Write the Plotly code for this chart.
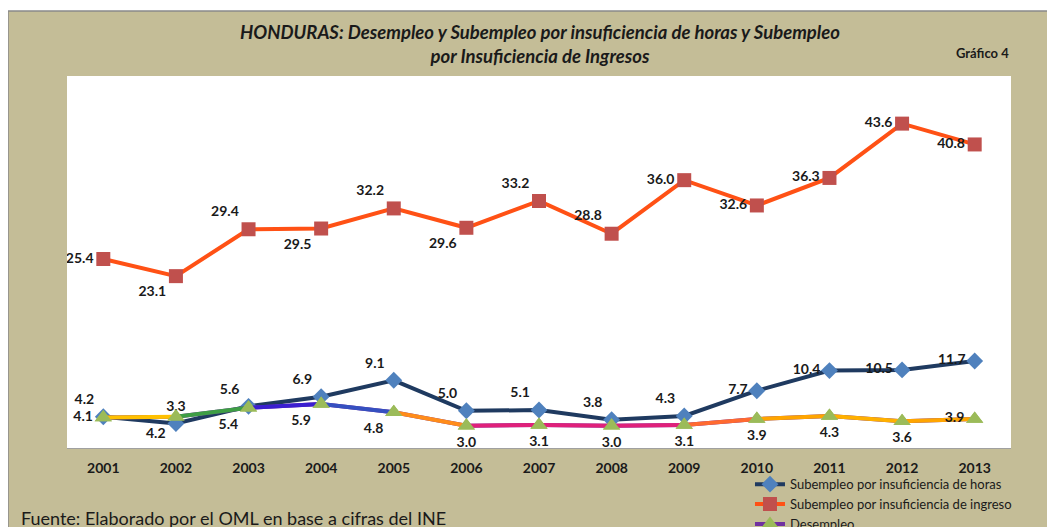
"""Honduras: desempleo y subempleo, 2001-2013."""

import plotly.graph_objects as go

years = [str(y) for y in range(2001, 2014)]
horas = [4.2, 3.3, 5.6, 6.9, 9.1, 5.0, 5.1, 3.8, 4.3, 7.7, 10.4, 10.5, 11.7]
ingreso = [25.4, 23.1, 29.4, 29.5, 32.2, 29.6, 33.2, 28.8, 36.0, 32.6, 36.3, 43.6, 40.8]
desempleo = [4.1, 4.2, 5.4, 5.9, 4.8, 3.0, 3.1, 3.0, 3.1, 3.9, 4.3, 3.6, 3.9]

_C = {
    "bg": "#C4BD97",
    "horas_line": "#1F3A60",
    "horas_mk": "#4F81BD",
    "ing_line": "#FF5115",
    "ing_mk": "#C0504D",
    "des_mk": "#9BBB59",
    "text": "#1A1A1A",
}
_FONT = "Lato"
_NARROW = "Liberation Sans Narrow, Lato"
# Excel draws the desempleo line as a gradient; approximate with one colour per segment
_DES_SEG = ["#FFC000", "#3E9E45", "#3A1FD0", "#3550C0", "#FF8C1A", "#E0207A",
            "#E0207A", "#E0207A", "#FF6A30", "#FFA500", "#FFB000", "#FFA500"]

pos_horas = ["top left", "top center", "top left", "top left", "top left", "top left", "top left",
             "top left", "top left", "middle left", "middle left", "middle left", "middle left"]
pos_ing = ["middle left", "bottom left", "top left", "bottom left", "top left", "bottom left", "top left",
           "top left", "middle left", "middle left", "middle left", "middle left", "middle left"]
pos_des = ["middle left", "bottom left", "bottom left", "bottom left", "bottom left", "bottom center",
           "bottom center", "bottom center", "bottom center", "bottom center", "bottom center",
           "bottom center", "middle left"]

lbl_font = dict(family=_FONT, size=14, color=_C["text"], weight="bold")

fig = go.Figure()
fig.add_trace(go.Scatter(
    x=years, y=horas, name="Subempleo por insuficiencia de horas", mode="lines+markers+text",
    line=dict(color=_C["horas_line"], width=4),
    marker=dict(symbol="diamond", size=13, color=_C["horas_mk"]),
    text=[f"{v:.1f}" for v in horas], textposition=pos_horas, textfont=lbl_font,
))
fig.add_trace(go.Scatter(
    x=years, y=ingreso, name="Subempleo por insuficiencia de ingreso", mode="lines+markers+text",
    line=dict(color=_C["ing_line"], width=4),
    marker=dict(symbol="square", size=14, color=_C["ing_mk"]),
    text=[f"{v:.1f}" for v in ingreso], textposition=pos_ing, textfont=lbl_font,
))
# legend entry for desempleo
fig.add_trace(go.Scatter(
    x=years, y=desempleo, name="Desempleo", mode="lines+markers",
    line=dict(color="#7030A0", width=4),
    marker=dict(symbol="triangle-up", size=15, color=_C["des_mk"]),
))
for i, col in enumerate(_DES_SEG):
    fig.add_trace(go.Scatter(
        x=years[i:i + 2], y=desempleo[i:i + 2], mode="lines", showlegend=False,
        line=dict(color=col, width=4), hoverinfo="skip",
    ))
fig.add_trace(go.Scatter(
    x=years, y=desempleo, mode="markers+text", showlegend=False,
    marker=dict(symbol="triangle-up", size=15, color=_C["des_mk"]),
    text=[f"{v:.1f}" for v in desempleo], textposition=pos_des, textfont=lbl_font,
))

fig.update_layout(
    width=1055, height=527,
    margin=dict(l=59, r=52, t=68, b=87, autoexpand=False),
    paper_bgcolor=_C["bg"], plot_bgcolor="white",
    font=dict(family=_FONT, color=_C["text"]),
    xaxis=dict(type="category", range=[-0.5, 12.5], showgrid=False, showline=True,
               linecolor="#A0A0A0", linewidth=1, ticks="", ticklabelstandoff=7,
               tickfont=dict(family=_FONT, size=14, color=_C["text"], weight="bold")),
    yaxis=dict(range=[0, 50], visible=False),
    showlegend=True,
    legend=dict(x=0.7235, y=-0.057, xanchor="left", yanchor="top", bgcolor="rgba(0,0,0,0)",
                font=dict(family=_NARROW, size=13, color=_C["text"]), tracegroupgap=0),
    annotations=[
        dict(text="<b><i>HONDURAS: Desempleo y Subempleo por insuficiencia de horas y Subempleo<br>"
                  "por Insuficiencia de Ingresos</i></b>",
             x=0.501, y=1.085, xref="paper", yref="paper", xanchor="center", yanchor="middle",
             showarrow=False, font=dict(family=_FONT, size=18.5, color=_C["text"])),
        dict(text="<b>Gráfico 4</b>", x=1.0, y=1.063, xref="paper", yref="paper",
             xanchor="right", yanchor="middle", showarrow=False,
             font=dict(family=_FONT, size=13, color=_C["text"])),
        dict(text="Fuente: Elaborado por el OML en base a cifras del INE", x=-0.051, y=-0.188,
             xref="paper", yref="paper", xanchor="left", yanchor="middle", showarrow=False,
             font=dict(family=_FONT, size=18, color=_C["text"])),
    ],
    shapes=[
        dict(type="rect", xref="paper", yref="paper", x0=-0.08, x1=1.1, y0=1.1747, y1=1.25,
             fillcolor="white", line=dict(width=0)),
        dict(type="line", xref="paper", yref="paper", x0=-0.0625, x1=-0.0625, y0=-0.25, y1=1.1747,
             line=dict(color="#8A8A8A", width=1.5)),
        dict(type="line", xref="paper", yref="paper", x0=-0.0625, x1=1.1, y0=1.1747, y1=1.1747,
             line=dict(color="#8A8A8A", width=1.5)),
    ],
)

fig.write_html("out.html")
